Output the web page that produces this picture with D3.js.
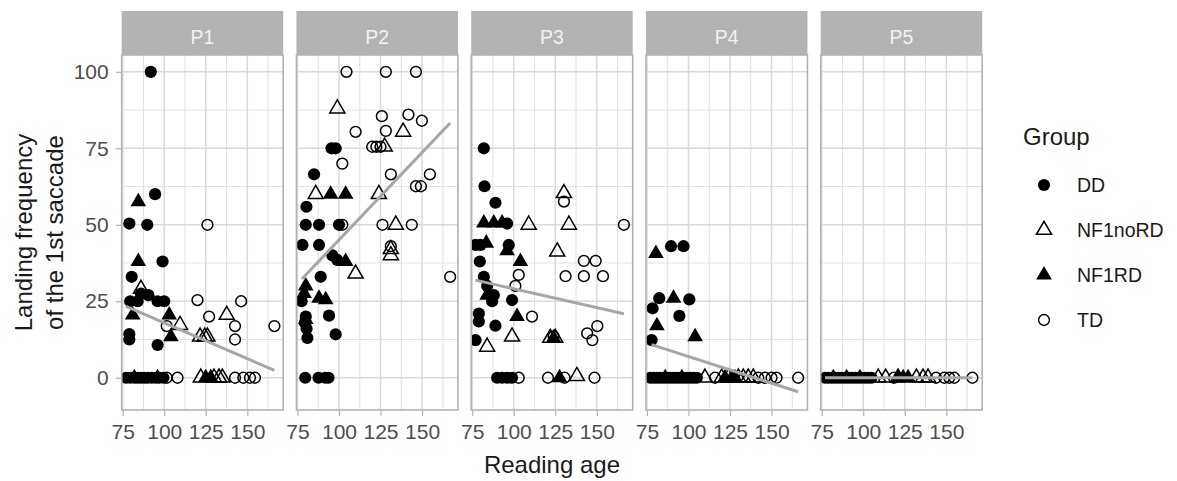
<!DOCTYPE html>
<html><head><meta charset="utf-8">
<script src="https://cdn.jsdelivr.net/npm/d3@7"></script>
<style>body{margin:0;background:#fff}svg{display:block;font-family:"Liberation Sans",Arial,sans-serif}</style>
</head><body><svg id="c" width="1177" height="481"></svg>
<script>
// ---- data ----
const panelLabels = ["P1","P2","P3","P4","P5"];
const groups = ["DD","NF1noRD","NF1RD","TD"];
const xTicks = [75,100,125,150];
const yTicks = [0,25,50,75,100];
// [group, reading age, landing frequency]
const p1Points = [
 ["DD",91.9,100],["DD",94.5,60],["DD",79,50.4],["DD",89.8,50],["DD",99,38],["DD",80.4,33],["DD",86,27.5],["DD",90.5,27],
 ["DD",79.5,25],["DD",84,25],["DD",96,25],["DD",100,25],["DD",79,14.3],["DD",79,12.5],["DD",96,10.7],
 ["DD",77,0],["DD",79.5,0],["DD",82,0],["DD",84,0],["DD",86,0],["DD",88,0],["DD",90,0],["DD",92.5,0],["DD",95,0],["DD",97,0],["DD",99.5,0],
 ["NF1noRD",86,29],["NF1noRD",109.5,17.2],["NF1noRD",137.6,20.5],["NF1noRD",121.6,13.4],["NF1noRD",124.4,13.4],["NF1noRD",126,13.4],
 ["NF1noRD",122,0],["NF1noRD",130,0],["NF1noRD",133,0],["NF1noRD",135,0],
 ["NF1RD",84.4,57.5],["NF1RD",84.4,38],["NF1RD",81,20.5],["NF1RD",103,20.5],["NF1RD",104,13.4],
 ["NF1RD",82,0],["NF1RD",96,0],["NF1RD",125,0],["NF1RD",128,0],
 ["TD",126,50],["TD",120,25.4],["TD",146.3,25],["TD",127,20],["TD",101.5,16.9],["TD",142.6,16.9],["TD",166.3,16.9],["TD",142.6,12.5],
 ["TD",101.5,0],["TD",108,0],["TD",142.6,0],["TD",147.6,0],["TD",151.6,0],["TD",154.6,0]
];
const p2Points = [
 ["DD",95.5,75],["DD",98,75],["DD",85,66.5],["DD",80.4,55.9],["DD",80,50],["DD",88,50],["DD",100,50],["DD",78,43.4],["DD",88,43.4],
 ["DD",96,40],["DD",99,38.5],["DD",89,33],["DD",77.5,25],["DD",80,20],["DD",94,20.3],["DD",79.5,18],["DD",80.5,16],["DD",81,13],["DD",98,14.2],
 ["DD",79.7,0],["DD",87.7,0],["DD",91.7,0],["DD",93.7,0],
 ["NF1noRD",99,88],["NF1noRD",138.6,80.4],["NF1noRD",127.5,75.5],["NF1noRD",86,60],["NF1noRD",124,60],["NF1noRD",134.2,50],
 ["NF1noRD",131.2,42],["NF1noRD",131.2,40],["NF1noRD",110,34],
 ["NF1RD",95,60],["NF1RD",104,60],["NF1RD",104,38],["NF1RD",80,30],["NF1RD",79,27.5],["NF1RD",88,26],["NF1RD",92,25.5],["NF1RD",80,19],
 ["TD",104.5,100],["TD",128.2,100],["TD",146.3,100],["TD",125.8,85.5],["TD",141.8,86],["TD",149.9,84],["TD",110,80.4],["TD",128.2,80.7],
 ["TD",120,75.5],["TD",122.5,75.5],["TD",125,75.5],["TD",102,70],["TD",131.2,66.5],["TD",154.7,66.5],["TD",146.3,62.6],["TD",149.3,62.6],
 ["TD",102,50],["TD",126.2,50],["TD",143.8,50],["TD",131.2,43],["TD",166.9,33]
];
const p3Points = [
 ["DD",82,75],["DD",82.4,62.6],["DD",89,57.2],["DD",96,50.4],["DD",77,43.4],["DD",80,43.4],["DD",97,43.4],["DD",79.6,38],["DD",82,33],
 ["DD",84,30],["DD",88,27],["DD",87,25],["DD",99,25.4],["DD",79,21],["DD",79,18.4],["DD",89,17],["DD",77,12.3],
 ["DD",90,0],["DD",93,0],["DD",96,0],["DD",99,0],
 ["NF1noRD",130.2,60.3],["NF1noRD",109,50],["NF1noRD",133.2,50],["NF1noRD",126.2,41.2],["NF1noRD",99,13.4],["NF1noRD",84,10.1],
 ["NF1noRD",122,13],["NF1noRD",125,13],["NF1noRD",138,0.5],
 ["NF1RD",82,50.6],["NF1RD",88,50.6],["NF1RD",93,50.6],["NF1RD",83.5,44],["NF1RD",96,41.5],["NF1RD",104,38],["NF1RD",84,27],
 ["NF1RD",102,20],["NF1RD",124,13],["NF1RD",127.6,0],
 ["TD",130.2,57.6],["TD",166.3,50],["TD",142.2,38.2],["TD",149.3,38.2],["TD",103,33.6],["TD",131.2,33.2],["TD",142.2,33.2],["TD",153.7,33.2],
 ["TD",101,30],["TD",111,20],["TD",144.2,14.5],["TD",150.3,16.9],["TD",147.3,12.3],["TD",124,13.5],
 ["TD",103,0],["TD",120.6,0],["TD",130.6,0],["TD",148.6,0]
];
const p4Points = [
 ["DD",89.5,43],["DD",97,43],["DD",82.4,26],["DD",100.5,25.6],["DD",78.4,22.7],["DD",94.5,20.2],["DD",77.8,12.3],
 ["DD",77,0],["DD",79,0],["DD",81,0],["DD",83,0],["DD",85,0],["DD",87,0],["DD",89,0],["DD",91,0],["DD",93,0],["DD",95,0],["DD",97,0],
 ["DD",99,0],["DD",101,0],["DD",103,0],["DD",105,0],
 ["NF1noRD",109.9,0],["NF1noRD",120,0],["NF1noRD",124,0],["NF1noRD",130,0],["NF1noRD",133,0],["NF1noRD",136,0],["NF1noRD",139,0],
 ["NF1RD",80.4,40.6],["NF1RD",91,26],["NF1RD",81,17],["NF1RD",104,13.4],["NF1RD",86,0],["NF1RD",96,0],["NF1RD",122,0],["NF1RD",126,0],["NF1RD",128,0],
 ["TD",116,0],["TD",142,0],["TD",146,0],["TD",150,0],["TD",153,0],["TD",166,0]
];
const p5Points = [
 ["DD",77,0],["DD",79,0],["DD",81,0],["DD",83,0],["DD",85,0],["DD",87,0],["DD",89,0],["DD",91,0],["DD",93,0],["DD",95,0],["DD",97,0],
 ["DD",99,0],["DD",101,0],["DD",103,0],["DD",105,0],
 ["NF1noRD",109,0],["NF1noRD",113.5,0],["NF1noRD",121,0],["NF1noRD",132,0],["NF1noRD",136,0],["NF1noRD",139,0],
 ["NF1RD",82,0],["NF1RD",90,0],["NF1RD",98,0],["NF1RD",121,0],["NF1RD",124,0],["NF1RD",127,0],
 ["TD",118.5,0],["TD",143.8,0],["TD",148.8,0],["TD",151.8,0],["TD",154.8,0],["TD",165.7,0]
];
const panelPoints = [p1Points,p2Points,p3Points,p4Points,p5Points];
// fitted line end points per panel: [x1, y1, x2, y2]
const fitLines = [
 [77,23.3,166.3,2.4],
 [77.7,32.3,166.9,83.3],
 [77,31.9,166.3,20.9],
 [77.8,10.8,166,-4.6],
 [77,0,165.7,0]
];

// ---- layout ----
const svg = d3.select("#c");
const pTop = 55, pBottom = 410, pw = 161.5, left0 = 121.7, step = 174.75;
const x = d3.scaleLinear().domain([74.4,171.6]).range([0,pw]);
const y = d3.scaleLinear().domain([-10.55,105.5]).range([pBottom,pTop]);
const font = "'Liberation Sans',Arial,sans-serif";

function triPath(cx,cy,R){
  return `M${cx},${cy-1.555*R}L${cx+1.347*R},${cy+0.7775*R}L${cx-1.347*R},${cy+0.7775*R}Z`;
}
function drawShape(g,grp,cx,cy){
  if(grp==="DD") g.append("circle").attr("cx",cx).attr("cy",cy).attr("r",6.1).attr("fill","#000");
  else if(grp==="TD") g.append("circle").attr("cx",cx).attr("cy",cy).attr("r",5.4).attr("fill","none").attr("stroke","#000").attr("stroke-width",1.5);
  else if(grp==="NF1RD") g.append("path").attr("d",triPath(cx,cy,5.8)).attr("fill","#000");
  else g.append("path").attr("d",triPath(cx,cy,5.6)).attr("fill","none").attr("stroke","#000").attr("stroke-width",1.5);
}

const defs = svg.append("defs");
panelLabels.forEach((lab,i)=>{
  const L = left0 + i*step;
  const g = svg.append("g").attr("transform",`translate(${L},0)`);
  defs.append("clipPath").attr("id","cp"+i).append("rect").attr("x",0).attr("y",pTop).attr("width",pw).attr("height",pBottom-pTop);
  // strip
  g.append("rect").attr("x",0).attr("y",11).attr("width",pw).attr("height",pTop-11).attr("fill","#b3b3b3");
  g.append("text").attr("x",pw/2).attr("y",43.5).attr("text-anchor","middle").attr("fill","#f2f2f2")
    .attr("font-size",19.5).attr("font-family",font).text(lab);
  // grid
  const minorX = [87.5,112.5,137.5,162.5], minorY = [12.5,37.5,62.5,87.5];
  minorX.forEach(v=>g.append("line").attr("x1",x(v)).attr("x2",x(v)).attr("y1",pTop).attr("y2",pBottom).attr("stroke","#e3e3e3").attr("stroke-width",1.1));
  minorY.forEach(v=>g.append("line").attr("x1",0).attr("x2",pw).attr("y1",y(v)).attr("y2",y(v)).attr("stroke","#e3e3e3").attr("stroke-width",1.1));
  xTicks.forEach(v=>g.append("line").attr("x1",x(v)).attr("x2",x(v)).attr("y1",pTop).attr("y2",pBottom).attr("stroke","#dadada").attr("stroke-width",1.5));
  yTicks.forEach(v=>g.append("line").attr("x1",0).attr("x2",pw).attr("y1",y(v)).attr("y2",y(v)).attr("stroke","#dadada").attr("stroke-width",1.5));
  // points
  const pg = g.append("g").attr("clip-path",`url(#cp${i})`);
  panelPoints[i].forEach(d=>drawShape(pg,d[0],x(d[1]),y(d[2])));
  // fit line
  const f = fitLines[i];
  pg.append("line").attr("x1",x(f[0])).attr("y1",y(f[1])).attr("x2",x(f[2])).attr("y2",y(f[3]))
    .attr("stroke","#a6a6a6").attr("stroke-width",3);
  // border
  g.append("rect").attr("x",0).attr("y",pTop).attr("width",pw).attr("height",pBottom-pTop).attr("fill","none").attr("stroke","#b3b3b3").attr("stroke-width",1.6);
  // x axis
  const xa = g.append("g").attr("transform",`translate(0,${pBottom})`)
    .call(d3.axisBottom(x).tickValues(xTicks).tickSize(6).tickPadding(8).tickFormat(d3.format("d")));
  xa.select(".domain").remove();
  xa.selectAll("line").attr("stroke","#b3b3b3").attr("stroke-width",1.2);
  xa.selectAll("text").attr("fill","#4d4d4d").attr("font-size",21).attr("font-family",font);
  if(i===0){
    const ya = svg.append("g").attr("transform",`translate(${L},0)`)
      .call(d3.axisLeft(y).tickValues(yTicks).tickSize(6).tickPadding(7));
    ya.select(".domain").remove();
    ya.selectAll("line").attr("stroke","#b3b3b3").attr("stroke-width",1.2);
    ya.selectAll("text").attr("fill","#4d4d4d").attr("font-size",21).attr("font-family",font);
  }
});

// axis titles
svg.append("text").attr("x",left0 + (4*step+pw)/2).attr("y",473).attr("text-anchor","middle")
  .attr("font-size",24).attr("font-family",font).attr("fill","#1a1a1a").text("Reading age");
const yt = svg.append("g").attr("transform",`translate(0,${(pTop+pBottom)/2}) rotate(-90)`);
yt.append("text").attr("x",0).attr("y",31.5).attr("text-anchor","middle").attr("font-size",24).attr("font-family",font).attr("fill","#1a1a1a").text("Landing frequency");
yt.append("text").attr("x",0).attr("y",63).attr("text-anchor","middle").attr("font-size",24).attr("font-family",font).attr("fill","#1a1a1a").text("of the 1st saccade");

// legend
const lg = svg.append("g");
lg.append("text").attr("x",1023).attr("y",145).attr("font-size",24).attr("font-family",font).attr("fill","#1a1a1a").text("Group");
groups.forEach((gname,k)=>{
  const cy = 185 + k*45;
  drawShape(lg,gname,1044,cy);
  lg.append("text").attr("x",1077).attr("y",cy).attr("dy","0.35em").attr("font-size",19.5).attr("font-family",font).attr("fill","#1a1a1a").text(gname);
});
</script></body></html>
